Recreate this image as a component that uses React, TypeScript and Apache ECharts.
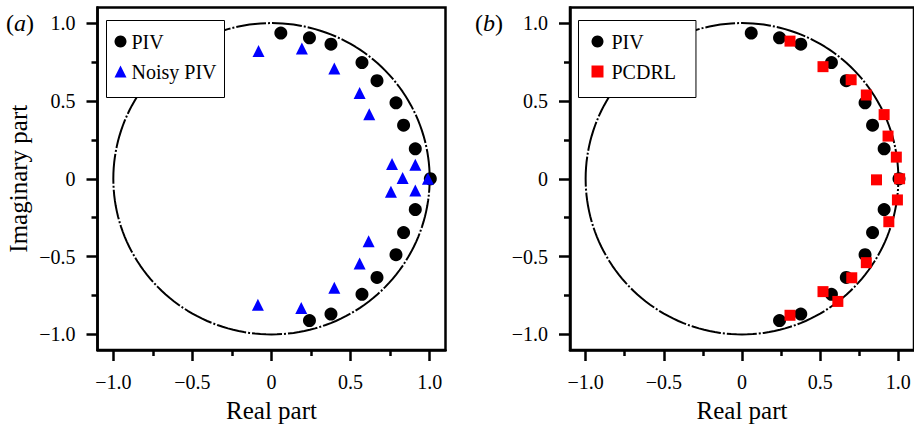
import React, { useEffect, useRef } from "react";
import * as echarts from "echarts";

// Data
const pivReal = [0.059, 0.24, 0.376, 0.572, 0.667, 0.787, 0.835, 0.909, 1.004, 0.909, 0.835, 0.787, 0.667, 0.572, 0.376, 0.24];
const pivImag = [0.936, 0.905, 0.864, 0.746, 0.63, 0.488, 0.344, 0.192, 0.0, -0.198, -0.346, -0.488, -0.634, -0.742, -0.869, -0.911];

const noisyReal = [-0.082, 0.192, 0.397, 0.557, 0.618, 0.762, 0.909, 0.829, 0.989, 0.755, 0.909, 0.614, 0.557, 0.397, 0.188, -0.086];
const noisyImag = [0.82, 0.837, 0.708, 0.551, 0.414, 0.094, 0.09, 0.005, 0.0, -0.084, -0.075, -0.401, -0.545, -0.7, -0.831, -0.81];

const pcdrlReal = [0.307, 0.518, 0.698, 0.795, 0.909, 0.934, 0.987, 0.86, 1.008, 0.994, 0.939, 0.795, 0.702, 0.518, 0.613, 0.307];
const pcdrlImag = [0.884, 0.72, 0.636, 0.538, 0.412, 0.274, 0.139, -0.007, 0.0, -0.136, -0.276, -0.539, -0.636, -0.725, -0.788, -0.877];

const majorTicks = [-1, -0.5, 0, 0.5, 1];
const minorTicks = [-0.75, -0.25, 0.25, 0.75];
const tickLabels = ["−1.0", "−0.5", "0", "0.5", "1.0"];

const FONT = "'Liberation Serif', 'Times New Roman', serif";

const pairs = (xs: number[], ys: number[]) => xs.map((x, i) => [x, ys[i]]);

// unit circle reference curve
const unitCircle: number[][] = [];
for (let k = 0; k <= 360; k += 2) {
  const a = (k * Math.PI) / 180;
  unitCircle.push([Math.cos(a), Math.sin(a)]);
}

const labelFmt = (v: number) => {
  const idx = majorTicks.findIndex((t) => Math.abs(t - v) < 1e-6);
  return idx >= 0 ? tickLabels[idx] : "";
};

export default function App() {
  const ref = useRef<HTMLDivElement>(null);
  useEffect(() => {
    if (!ref.current) return;
    const chart = echarts.init(ref.current, undefined, { renderer: "svg" });

    const grids = [
      { left: 97.5, top: 7.5, width: 348, height: 346 },
      { left: 570, top: 7.5, width: 348, height: 346 },
    ];

    const majorAxis = (gi: number, dim: "x" | "y", name?: string) => ({
      gridIndex: gi,
      type: "value",
      min: -1.1,
      max: 1.1,
      position: dim === "x" ? "bottom" : "left",
      axisLine: { show: true, onZero: false, lineStyle: { color: "#000", width: 2.5 } },
      axisTick: { show: true, customValues: majorTicks, length: 11, lineStyle: { color: "#000", width: 2.5 } },
      axisLabel: {
        show: true,
        customValues: majorTicks,
        formatter: labelFmt,
        margin: 22,
        fontSize: 20,
        fontFamily: FONT,
        color: "#000",
      },
      splitLine: { show: false },
      name: name,
      nameLocation: "middle",
      nameGap: dim === "x" ? 48 : 67,
      nameTextStyle: { fontSize: 25, fontFamily: FONT, color: "#000" },
    });

    const minorAxis = (gi: number, dim: "x" | "y") => ({
      gridIndex: gi,
      type: "value",
      min: -1.1,
      max: 1.1,
      position: dim === "x" ? "bottom" : "left",
      axisLine: { show: false, onZero: false },
      axisTick: { show: true, customValues: minorTicks, length: 6, lineStyle: { color: "#000", width: 2.5 } },
      axisLabel: { show: false },
      splitLine: { show: false },
    });

    const circleSeries = (gi: number) => ({
      type: "line",
      xAxisIndex: gi * 2,
      yAxisIndex: gi * 2,
      data: unitCircle,
      showSymbol: false,
      symbol: "none",
      silent: true,
      z: 1,
      lineStyle: { color: "#000", width: 2, type: [30, 2, 2, 2] },
    });

    const legendBase = {
      orient: "vertical",
      top: 20.5,
      itemWidth: 12,
      itemHeight: 12,
      itemGap: 10,
      backgroundColor: "#fff",
      borderColor: "#000",
      borderWidth: 1,
      borderRadius: 0,
      selectedMode: false,
    };

    const panelTitle = (letter: string, left: number) => ({
      text: "{p|(}{i|" + letter + "}{p|)}",
      left,
      top: 11,
      padding: 0,
      textStyle: {
        fontWeight: "normal",
        rich: {
          p: { fontSize: 24, fontFamily: FONT, fontWeight: "normal", color: "#000" },
          i: { fontSize: 24, fontFamily: FONT, fontWeight: "normal", fontStyle: "italic", color: "#000" },
        },
      },
    });

    chart.setOption({
      animation: false,
      backgroundColor: "#fff",
      title: [panelTitle("a", 6), panelTitle("b", 475)],
      grid: grids.map((g) => ({ ...g, show: true, borderColor: "#000", borderWidth: 2.5, backgroundColor: "transparent" })),
      xAxis: [majorAxis(0, "x", "Real part"), minorAxis(0, "x"), majorAxis(1, "x", "Real part"), minorAxis(1, "x")],
      yAxis: [majorAxis(0, "y", "Imaginary part"), minorAxis(0, "y"), majorAxis(1, "y"), minorAxis(1, "y")],
      legend: [
        {
          ...legendBase,
          left: 106.5,
          padding: [11, 8, 16, 8],
          data: ["PIV", "Noisy PIV"],
          textStyle: { fontSize: 20, fontFamily: FONT, color: "#000", lineHeight: 20 },
        },
        {
          ...legendBase,
          left: 578.5,
          padding: [11, 20, 16, 13],
          data: ["PIV", "PCDRL"],
          textStyle: { fontSize: 20, fontFamily: FONT, color: "#000", lineHeight: 20, padding: [0, 0, 0, 3] },
        },
      ],
      series: [
        circleSeries(0),
        {
          name: "PIV",
          type: "scatter",
          xAxisIndex: 0,
          yAxisIndex: 0,
          symbol: "circle",
          symbolSize: 13,
          itemStyle: { color: "#000", opacity: 1 },
          data: pairs(pivReal, pivImag),
          z: 3,
        },
        {
          name: "Noisy PIV",
          type: "scatter",
          xAxisIndex: 0,
          yAxisIndex: 0,
          symbol: "triangle",
          symbolSize: 12,
          itemStyle: { color: "#0000ff", opacity: 1 },
          data: pairs(noisyReal, noisyImag),
          z: 4,
        },
        circleSeries(1),
        {
          name: "PIV",
          type: "scatter",
          xAxisIndex: 2,
          yAxisIndex: 2,
          symbol: "circle",
          symbolSize: 13,
          itemStyle: { color: "#000", opacity: 1 },
          data: pairs(pivReal, pivImag),
          z: 3,
        },
        {
          name: "PCDRL",
          type: "scatter",
          xAxisIndex: 2,
          yAxisIndex: 2,
          symbol: "rect",
          symbolSize: 11,
          itemStyle: { color: "#ff0000", opacity: 1 },
          data: pairs(pcdrlReal, pcdrlImag),
          z: 4,
        },
      ],
    });
    return () => chart.dispose();
  }, []);

  return (
    <div
      ref={ref}
      style={{ position: "fixed", left: 0, top: 0, width: 914, height: 428, background: "#fff" }}
    />
  );
}
